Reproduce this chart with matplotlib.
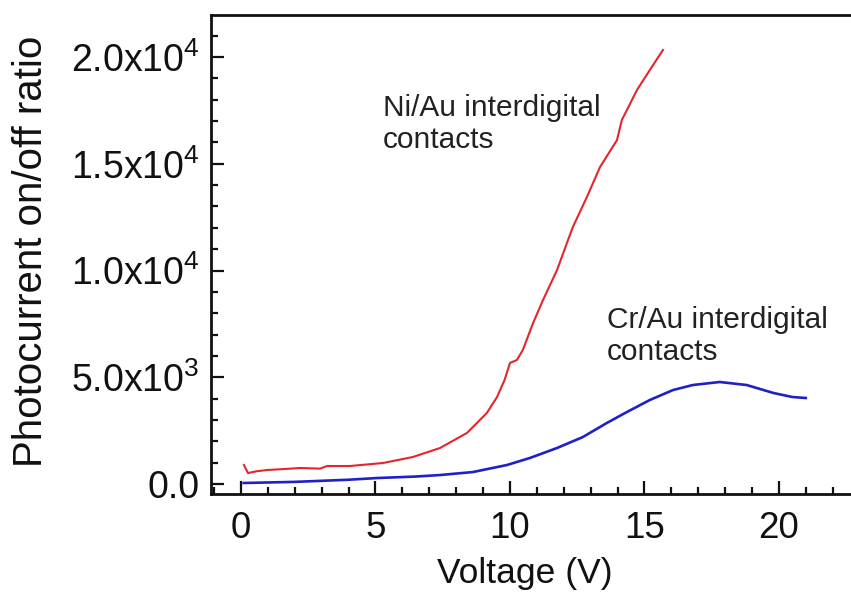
import matplotlib
matplotlib.use("Agg")
import matplotlib.pyplot as plt
from matplotlib.ticker import MultipleLocator, FixedLocator, FixedFormatter

plt.rcParams['font.family'] = ['Liberation Sans', 'DejaVu Sans']
plt.rcParams['mathtext.fontset'] = 'custom'
plt.rcParams['mathtext.rm'] = 'Liberation Sans'
plt.rcParams['mathtext.it'] = 'Liberation Sans'
plt.rcParams['mathtext.bf'] = 'Liberation Sans'

# ---- data ----
ni_v = [0.11, 0.26, 0.6, 0.97, 1.6, 2.19, 2.94, 3.2, 4.05, 5.28, 6.39, 7.4, 8.4,
        9.14, 9.52, 9.8, 10.0, 10.26, 10.48, 10.86, 11.23, 11.75, 12.16, 12.34,
        12.86, 13.35, 13.98, 14.16, 14.35, 14.72, 15.2, 15.69]
ni_ratio = [890, 515, 600, 655, 700, 750, 720, 843, 843, 984, 1265, 1686, 2389,
            3326, 4075, 4870, 5670, 5810, 6280, 7540, 8620, 10020, 11430, 12040,
            13440, 14850, 16110, 17050, 17520, 18450, 19390, 20330]

cr_v = [0.1, 2.0, 4.0, 5.06, 6.5, 7.4, 8.62, 9.89, 10.74, 11.75, 12.71, 13.6,
        14.35, 15.2, 16.06, 16.8, 17.8, 18.8, 19.8, 20.5, 21.0]
cr_ratio = [47, 100, 200, 280, 350, 420, 560, 890, 1218, 1686, 2200, 2857,
            3373, 3935, 4400, 4637, 4778, 4637, 4262, 4075, 4028]

y_ticks = [0, 5000, 10000, 15000, 20000]
y_ticklabels = ['0.0', r'5.0x10$^{3}$', r'1.0x10$^{4}$', r'1.5x10$^{4}$', r'2.0x10$^{4}$']
x_ticks = [0, 5, 10, 15, 20]
x_ticklabels = ['0', '5', '10', '15', '20']

fig = plt.figure(figsize=(8.51, 5.93), dpi=100)
ax = fig.add_axes([211/851, 99/593, 1 - 211/851, (494-15)/593])

ax.plot(ni_v, ni_ratio, color='#e3262e', lw=1.5)
ax.plot(cr_v, cr_ratio, color='#2020c8', lw=1.9)

ax.set_xlim(-1.115, 22.68)
ax.set_ylim(-468, 21968)

ax.xaxis.set_major_locator(FixedLocator(x_ticks))
ax.xaxis.set_major_formatter(FixedFormatter(x_ticklabels))
ax.xaxis.set_minor_locator(MultipleLocator(1))
ax.yaxis.set_major_locator(FixedLocator(y_ticks))
ax.yaxis.set_major_formatter(FixedFormatter(y_ticklabels))
ax.yaxis.set_minor_locator(MultipleLocator(1000))

ax.tick_params(which='both', direction='in', width=1.6, colors='#111111')
ax.tick_params(which='major', length=9.4)
ax.tick_params(which='minor', length=5)
ax.tick_params(axis='y', which='major', labelsize=27, pad=8)
ax.tick_params(axis='x', which='major', labelsize=26.5, pad=12)

for s in ['left', 'bottom', 'top']:
    ax.spines[s].set_linewidth(2)
    ax.spines[s].set_color('#111111')
ax.spines['right'].set_visible(False)

ax.set_xlabel('Voltage (V)', fontsize=25.5, color='#111111')
ax.xaxis.set_label_coords(0.49, -0.131)
ax.set_ylabel('Photocurrent on/off ratio', fontsize=29, color='#111111')
ax.yaxis.set_label_coords(-0.2516, 0.507)

ax.text(5.28, 15740, 'Ni/Au interdigital\ncontacts', fontsize=21.5, color='#222222',
        va='baseline', linespacing=1.2)
ax.text(13.6, 5810, 'Cr/Au interdigital\ncontacts', fontsize=21.5, color='#222222',
        va='baseline', linespacing=1.2)

fig.savefig('out.png', dpi=100)
